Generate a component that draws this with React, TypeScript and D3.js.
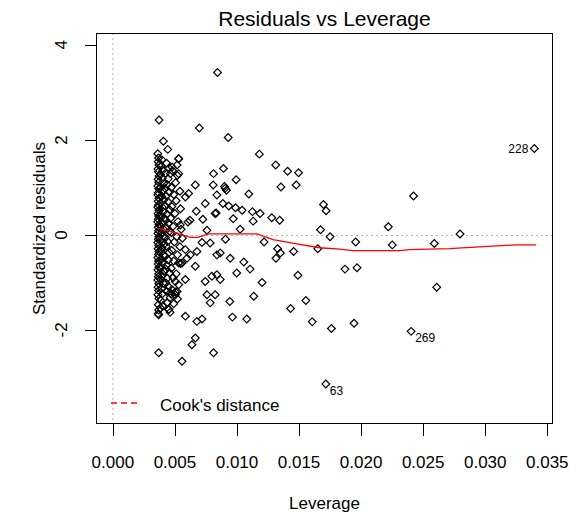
import { useMemo } from "react";
import * as d3 from "d3";

// leverage / standardized residual pairs
const denseColumn: [number, number][] = [
  [0.00362, 1.71], [0.00368, 1.62], [0.00365, 1.54], [0.00371, 1.47], [0.00363, 1.39],
  [0.00367, 1.33], [0.00372, 1.24], [0.00364, 1.17], [0.00369, 1.11], [0.00362, 1.03],
  [0.0037, 0.97], [0.00366, 0.89], [0.00363, 0.84], [0.00371, 0.77], [0.00365, 0.71],
  [0.00368, 0.63], [0.00362, 0.58], [0.00372, 0.52], [0.00364, 0.45], [0.00369, 0.4],
  [0.00366, 0.33], [0.00362, 0.27], [0.00371, 0.22], [0.00365, 0.16], [0.00368, 0.09],
  [0.00363, 0.03], [0.0037, -0.04], [0.00366, -0.09], [0.00362, -0.16], [0.00369, -0.22],
  [0.00364, -0.29], [0.00371, -0.35], [0.00367, -0.41], [0.00362, -0.48], [0.00368, -0.55],
  [0.00365, -0.61], [0.00371, -0.68], [0.00363, -0.74], [0.00369, -0.82], [0.00366, -0.88],
  [0.00362, -0.95], [0.0037, -1.03], [0.00364, -1.1], [0.00368, -1.17], [0.00363, -1.26],
  [0.00371, -1.34], [0.00366, -1.47], [0.00369, -1.58], [0.00364, -1.66],
  [0.00395, 1.58], [0.00388, 1.45], [0.00402, 1.36], [0.00384, 1.27], [0.00398, 1.19],
  [0.0041, 1.08], [0.00386, 1.0], [0.00401, 0.93], [0.00393, 0.81], [0.00412, 0.74],
  [0.00385, 0.67], [0.00399, 0.58], [0.00406, 0.49], [0.00389, 0.41], [0.00415, 0.35],
  [0.00396, 0.26], [0.00384, 0.19], [0.00408, 0.12], [0.00392, 0.04], [0.00403, -0.03],
  [0.00387, -0.12], [0.00414, -0.19], [0.00396, -0.27], [0.00385, -0.33], [0.00409, -0.43],
  [0.00394, -0.51], [0.00401, -0.59], [0.00388, -0.69], [0.00413, -0.77], [0.00397, -0.86],
  [0.00385, -0.94], [0.00406, -1.02], [0.00392, -1.13], [0.00399, -1.24], [0.00386, -1.38],
  [0.00404, -1.49], [0.00383, -1.54],
  [0.00407, 1.97], [0.00442, 1.8], [0.00433, 1.51], [0.00452, 1.41], [0.00425, 1.3],
  [0.00446, 1.18], [0.00437, 1.06], [0.00421, 0.98], [0.00455, 0.9], [0.0043, 0.82],
  [0.00444, 0.7], [0.00423, 0.61], [0.00458, 0.53], [0.00436, 0.44], [0.00427, 0.31],
  [0.00449, 0.24], [0.00432, 0.15], [0.00456, 0.07], [0.00424, -0.06], [0.00441, -0.14],
  [0.0043, -0.24], [0.00453, -0.37], [0.00422, -0.45], [0.00447, -0.53], [0.00435, -0.64],
  [0.00426, -0.72], [0.00457, -0.8], [0.00439, -0.91], [0.00428, -1.01], [0.0045, -1.09],
  [0.00434, -1.19], [0.00461, -1.32], [0.00437, -1.43], [0.0045, -1.57], [0.00461, -1.63],
];

const outerColumn: [number, number][] = [
  [0.0053, 1.6], [0.0048, 1.35], [0.0052, 1.25], [0.00505, 1.1], [0.0047, 1.0],
  [0.0054, 0.92], [0.0049, 0.85], [0.0051, 0.72], [0.00475, 0.6], [0.00545, 0.55],
  [0.005, 0.45], [0.00465, 0.35], [0.00525, 0.28], [0.00485, 0.18], [0.0055, 0.12],
  [0.0047, 0.05], [0.00515, -0.04], [0.00495, -0.15], [0.0054, -0.25], [0.00475, -0.33],
  [0.0052, -0.42], [0.0049, -0.55], [0.00545, -0.6], [0.0047, -0.7], [0.0051, -0.82],
  [0.00485, -0.9], [0.0053, -1.05], [0.00475, -1.15], [0.00503, -1.2], [0.0052, -1.35],
  [0.0049, -1.45], [0.0047, -1.25], [0.00517, 1.47], [0.00477, 1.43], [0.00463, 1.29],
];

const spreadPoints: [number, number][] = [
  [0.00843, 3.42], [0.00372, 2.42], [0.00696, 2.25], [0.00929, 2.05], [0.0118, 1.7],
  [0.01312, 1.47], [0.01408, 1.34], [0.01496, 1.31], [0.01477, 1.05], [0.01354, 1.01],
  [0.00891, 1.4], [0.00811, 1.29], [0.0053, 1.61], [0.0053, 1.29], [0.00664, 1.05],
  [0.0061, 0.87], [0.00584, 0.8], [0.00744, 0.66], [0.00808, 1.05], [0.00838, 0.84],
  [0.00905, 0.98], [0.00993, 1.16], [0.00899, 1.02], [0.00915, 0.94], [0.01095, 0.86],
  [0.00886, 0.66], [0.00934, 0.61], [0.00988, 0.57], [0.01041, 0.52], [0.00672, 0.5],
  [0.00832, 0.46], [0.01124, 0.49], [0.01186, 0.45], [0.0128, 0.36], [0.01344, 0.31],
  [0.0113, 0.29], [0.0097, 0.34], [0.00725, 0.33], [0.00621, 0.31], [0.00605, 0.27],
  [0.00543, 0.21], [0.00824, 0.45], [0.01025, 0.12], [0.00758, 0.1], [0.0056, -0.07],
  [0.00718, -0.16], [0.00907, -0.09], [0.01218, -0.15], [0.00784, -0.17], [0.00838, -0.42],
  [0.00865, -0.38], [0.00584, -0.31], [0.00624, -0.42], [0.00677, -0.35], [0.00597, -0.49],
  [0.0053, -0.59], [0.00557, -0.59], [0.00664, -0.66], [0.00945, -0.49], [0.01055, -0.57],
  [0.01105, -0.72], [0.00998, -0.8], [0.01327, -0.29], [0.01349, -0.38], [0.01314, -0.49],
  [0.01456, -0.35], [0.01491, -0.85], [0.01202, -1.0], [0.00503, -0.98], [0.00584, -0.94],
  [0.00744, -0.98], [0.00798, -0.87], [0.00838, -0.84], [0.00865, -0.94], [0.00758, -1.26],
  [0.00824, -1.26], [0.00784, -1.43], [0.00517, -1.19], [0.00503, -1.26], [0.00463, -1.22],
  [0.00437, -1.43], [0.0045, -1.57], [0.00369, -1.68], [0.00584, -1.71], [0.00677, -1.82],
  [0.00718, -1.77], [0.00963, -1.73], [0.01079, -1.77], [0.00942, -1.4], [0.01135, -1.29],
  [0.01432, -1.55], [0.01555, -1.38], [0.01606, -1.83], [0.01761, -1.97], [0.01943, -1.86],
  [0.00664, -2.17], [0.00637, -2.31], [0.00369, -2.48], [0.00557, -2.66], [0.00811, -2.48],
  [0.01673, 0.11], [0.01697, 0.64], [0.01718, 0.51], [0.0175, -0.04], [0.01651, -0.29],
  [0.01956, -0.15], [0.0187, -0.72], [0.01967, -0.69], [0.02219, 0.17], [0.02251, -0.21],
  [0.02422, 0.82], [0.0259, -0.18], [0.02609, -1.1], [0.02797, 0.02],
];

const labelledPoints = [
  { id: "228", lev: 0.03396, res: 1.82, side: "left" },
  { id: "269", lev: 0.02403, res: -2.03, side: "right" },
  { id: "63", lev: 0.01716, res: -3.14, side: "right" },
];

// lowess-style red smoother
const smoothLev = [0.00367, 0.00487, 0.00624, 0.00688, 0.00768, 0.01162, 0.0129, 0.01482, 0.01667, 0.01828, 0.01932, 0.0231, 0.0239, 0.0271, 0.0295, 0.0325, 0.0341];
const smoothRes = [0.14, 0.06, -0.05, -0.05, 0.02, 0.02, -0.1, -0.19, -0.27, -0.3, -0.33, -0.33, -0.31, -0.29, -0.25, -0.21, -0.21];

const xTicks = [0, 0.005, 0.01, 0.015, 0.02, 0.025, 0.03, 0.035];
const yTicks = [-2, 0, 2, 4];

const W = 579;
const H = 520;
const plot = { left: 96, right: 553, top: 33, bottom: 424 };
const font = "'Liberation Sans', Arial, sans-serif";

export default function App() {
  const x = d3.scaleLinear().domain([-0.00136, 0.03546]).range([plot.left, plot.right]);
  const y = d3.scaleLinear().domain([-3.98, 4.25]).range([plot.bottom, plot.top]);

  const marker = useMemo(() => d3.symbol(d3.symbolSquare, 30)(), []);
  const allPoints = [
    ...denseColumn,
    ...outerColumn,
    ...spreadPoints,
    ...labelledPoints.map((p) => [p.lev, p.res] as [number, number]),
  ];

  const smooth = d3
    .line<number>()
    .x((d) => x(d))
    .y((_, i) => y(smoothRes[i]))(smoothLev);

  return (
    <svg
      width={W}
      height={H}
      style={{ position: "absolute", left: 0, top: 0, background: "#fff" }}
      fontFamily={font}
    >
      <defs>
        <clipPath id="plotclip">
          <rect x={plot.left} y={plot.top} width={plot.right - plot.left} height={plot.bottom - plot.top} />
        </clipPath>
      </defs>
      <text x={(plot.left + plot.right) / 2} y={26} textAnchor="middle" fontSize={21}>
        Residuals vs Leverage
      </text>

      {/* reference lines */}
      <line x1={x(0)} x2={x(0)} y1={plot.top} y2={plot.bottom} stroke="#b4b4b4" strokeDasharray="2,3" />
      <line x1={plot.left} x2={plot.right} y1={Math.round(y(0)) + 0.5} y2={Math.round(y(0)) + 0.5} stroke="#b4b4b4" strokeDasharray="2,3" />

      <g clipPath="url(#plotclip)">
        {allPoints.map((d, i) => (
          <path
            key={i}
            d={marker as string}
            transform={`translate(${x(d[0])},${y(d[1])}) rotate(45)`}
            fill="none"
            stroke="#000"
            strokeWidth={1.2}
          />
        ))}
        <path d={smooth ?? ""} fill="none" stroke="#ff0000" strokeWidth={1.3} />
      </g>

      {labelledPoints.map((p) => (
        <text
          key={p.id}
          x={p.side === "left" ? x(p.lev) - 6 : x(p.lev) + 4}
          y={p.side === "left" ? y(p.res) + 5 : y(p.res) + 11}
          textAnchor={p.side === "left" ? "end" : "start"}
          fontSize={12}
        >
          {p.id}
        </text>
      ))}

      {/* legend */}
      <line x1={111} x2={141} y1={403} y2={403} stroke="#ff0000" strokeWidth={1.3} strokeDasharray="6,4" />
      <text x={160} y={411} fontSize={17}>
        Cook's distance
      </text>

      {/* box */}
      <rect
        x={plot.left + 0.5}
        y={plot.top + 0.5}
        width={plot.right - plot.left - 1}
        height={plot.bottom - plot.top - 1}
        fill="none"
        stroke="#000"
      />

      {/* x axis */}
      {xTicks.map((t) => (
        <g key={t}>
          <line x1={Math.round(x(t)) + 0.5} x2={Math.round(x(t)) + 0.5} y1={plot.bottom} y2={plot.bottom + 12} stroke="#000" />
          <text x={x(t)} y={468} textAnchor="middle" fontSize={17}>
            {d3.format(".3f")(t)}
          </text>
        </g>
      ))}
      <text x={(plot.left + plot.right) / 2} y={509} textAnchor="middle" fontSize={17}>
        Leverage
      </text>

      {/* y axis */}
      {yTicks.map((t) => (
        <g key={t}>
          <line x1={plot.left - 11} x2={plot.left} y1={Math.round(y(t)) + 0.5} y2={Math.round(y(t)) + 0.5} stroke="#000" />
          <text transform={`translate(67,${y(t)}) rotate(-90)`} textAnchor="middle" fontSize={17}>
            {t}
          </text>
        </g>
      ))}
      <text transform={`translate(45,${(plot.top + plot.bottom) / 2}) rotate(-90)`} textAnchor="middle" fontSize={17}>
        Standardized residuals
      </text>
    </svg>
  );
}
